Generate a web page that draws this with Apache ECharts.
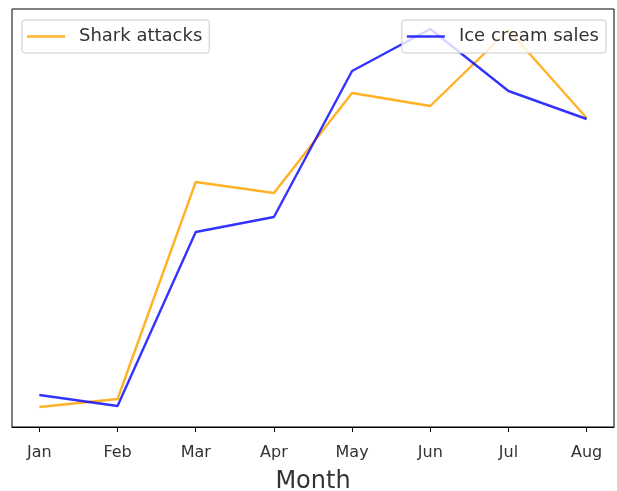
<!DOCTYPE html>
<html><head><meta charset="utf-8">
<script src="https://cdn.jsdelivr.net/npm/echarts@6/dist/echarts.min.js"></script>
<style>html,body{margin:0;padding:0;background:#fff}#c{width:617px;height:491px}</style>
</head><body><div id="c"></div>
<script>
const months = ['Jan','Feb','Mar','Apr','May','Jun','Jul','Aug'];
const sharkAttacks = [20, 28, 245, 234, 334, 321, 397, 309];
const iceCreamSales = [32, 21, 195, 210, 356, 398, 336, 308];
const xTicks = [0,1,2,3,4,5,6,7];

const chart = echarts.init(document.getElementById('c'), null, {renderer:'canvas'});
const font = 'DejaVu Sans';
const legendBase = {
  orient:'horizontal', top:20, padding:[6,7,6,5],
  borderColor:'#ccc', borderWidth:1, borderRadius:3,
  backgroundColor:'rgba(255,255,255,0.8)',
  icon:'rect', itemWidth:38, itemHeight:2.5,
  textStyle:{fontFamily:font, fontSize:18, color:'#333', padding:[0,0,0,9], lineHeight:21},
  selectedMode:false, z:10
};
chart.setOption({
  animation:false,
  grid:{left:12, right:3, top:9, bottom:64, outerBoundsMode:'none', containLabel:false,
        show:true, borderColor:'#000', borderWidth:1, backgroundColor:'transparent'},
  legend:[
    Object.assign({}, legendBase, {left:22, data:['Shark attacks']}),
    Object.assign({}, legendBase, {right:11, data:['Ice cream sales']})
  ],
  xAxis:{
    type:'value', min:-0.35, max:7.35,
    name:'Month', nameLocation:'middle', nameGap:43,
    nameTextStyle:{fontFamily:font, fontSize:24, color:'#333'},
    axisLine:{show:true, lineStyle:{color:'#000'}},
    axisTick:{show:true, customValues:xTicks, length:5, lineStyle:{color:'#000'}},
    axisLabel:{customValues:xTicks, formatter:v=>months[Math.round(v)], fontFamily:font, fontSize:16, color:'#333', margin:18},
    splitLine:{show:false}
  },
  yAxis:{
    type:'value', min:0, max:418,
    axisLine:{show:false}, axisTick:{show:false}, axisLabel:{show:false}, splitLine:{show:false}
  },
  series:[
    {name:'Shark attacks', type:'line', data:sharkAttacks.map((v,i)=>[i,v]), symbol:'none',
     itemStyle:{color:'rgba(255,165,0,0.85)'}, lineStyle:{color:'rgba(255,165,0,0.85)', width:2.4}},
    {name:'Ice cream sales', type:'line', data:iceCreamSales.map((v,i)=>[i,v]), symbol:'none',
     itemStyle:{color:'rgba(0,0,255,0.8)'}, lineStyle:{color:'rgba(0,0,255,0.8)', width:2.4}}
  ]
});
</script></body></html>
